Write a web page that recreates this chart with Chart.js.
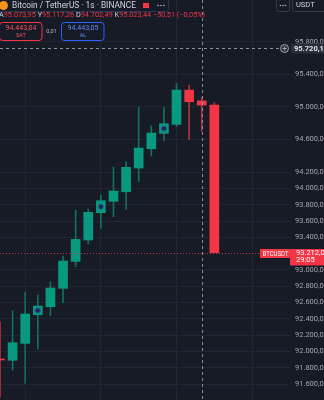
<!DOCTYPE html>
<html>
<head>
<meta charset="utf-8">
<script src="https://cdn.jsdelivr.net/npm/chart.js@4.4.1/dist/chart.umd.min.js"></script>
<style>
    html, body { margin: 0; padding: 0; background: #171b26; }
    canvas { display: block; }
</style>
</head>
<body>
<canvas id="chart" width="324" height="400"></canvas>
<script>
// Candle data (1s candles, BTCUSDT)
const times = ["19:30:41", "19:30:42", "19:30:43", "19:30:44", "19:30:45", "19:30:46",
    "19:30:47", "19:30:48", "19:30:49", "19:30:50", "19:30:51", "19:30:52",
    "19:30:53", "19:30:54", "19:30:55", "19:30:56", "19:30:57", "19:30:58",
    "19:30:59", "19:31:00", "19:31:01", "19:31:02", "19:31:03", "19:31:04"];
const opens  = [91907, 91891, 92099, 92450, 92548, 92774, 93105, 93367, 93702, 93842,
    93959, 94250, 94487, 94676, 94786, 95207, 95073.95, 95023.44];
const highs  = [92361, 92499, 92725, 92692, 92855, 93171, 93735, 93747, 93919, 94259,
    94328, 94995, 94766, 94995, 95289, 95269, 95117.26, 95052];
const lows   = [91440, 91772, 91609, 92029, 92438, 92597, 93039, 93318, 93510, 93653,
    93744, 94082, 94397, 94585, 94757, 94602, 94702.49, 93212];
const closes = [91895, 92107, 92459, 92557, 92778, 93109, 93375, 93707, 93849, 93968,
    94259, 94496, 94680, 94794, 95207, 95064, 95023.44, 93212];
// trade markers on candles
const markerPrices = [null, null, null, 92503, null, null, null, null, 93776, null,
    null, null, null, 94735, null, null, null, null];

// price scale
const priceTicks = [95800, 95400, 95000, 94600, 94200, 94000, 93800, 93600, 93400,
    93000, 92800, 92600, 92400, 92200, 92000, 91800, 91600];
const yMin = 91404;
const yMax = 96312;

// header / overlay texts
const symbolTitle = "Bitcoin / TetherUS · 1s · BINANCE";
const quoteCurrency = "USDT";
const sellPrice = 94443.04;
const buyPrice = 94443.05;
const spreadText = "0,01";
const crossIndex = 16;
const crossPrice = 95720.16;
const countdown = "29:05";
const symbolTag = "BTCUSDT";

const bg = "#171b26";
const gridColor = "#222633";
const green = "#089981";
const red = "#f23645";
const greenWick = "#13705f";
const redWick = "#b0323f";

// Turkish style number: 95.400,00
function fmt(v) {
    const parts = Math.abs(v).toFixed(2).split(".");
    const int = parts[0].replace(/\B(?=(\d{3})+(?!\d))/g, ".");
    return (v < 0 ? "−" : "") + int + "," + parts[1];
}

const bodies = opens.map((o, i) => [o, closes[i]]);
const wicks = lows.map((l, i) => [l, highs[i]]);
const isUp = i => closes[i] >= opens[i];

// background
const bgPlugin = {
    id: "bg",
    beforeDraw(chart) {
        const c = chart.ctx;
        c.save();
        c.fillStyle = bg;
        c.fillRect(0, 0, chart.width, chart.height);
        c.restore();
    }
};

function box(c, x, y, w, h, r) {
    c.beginPath();
    c.roundRect(x, y, w, h, r);
}

// price line, crosshair, header and labels
const overlayPlugin = {
    id: "overlay",
    afterDraw(chart) {
        const c = chart.ctx;
        const xs = chart.scales.x;
        const ys = chart.scales.y;
        const last = closes.length - 1;
        const lastY = Math.round(ys.getPixelForValue(closes[last])) + 0.5;
        c.save();

        // current price line
        c.strokeStyle = "rgba(242,54,69,0.85)";
        c.lineWidth = 1;
        c.setLineDash([1, 2]);
        c.beginPath();
        c.moveTo(0, lastY);
        c.lineTo(260, lastY);
        c.stroke();

        // crosshair
        const cx = Math.round(xs.getPixelForValue(crossIndex)) + 0.5;
        const cy = Math.round(ys.getPixelForValue(crossPrice)) + 0.5;
        c.strokeStyle = "#8a8e98";
        c.setLineDash([3, 3]);
        c.beginPath();
        c.moveTo(cx, 0);
        c.lineTo(cx, chart.height);
        c.moveTo(0, cy);
        c.lineTo(279, cy);
        c.stroke();
        c.setLineDash([]);

        // crosshair price label + add icon
        c.fillStyle = "#2a2e39";
        box(c, 291, cy - 5, 40, 10, 2);
        c.fill();
        c.fillStyle = "#e0e3eb";
        c.font = "bold 7.5px Roboto";
        c.textBaseline = "middle";
        c.textAlign = "left";
        c.fillText(fmt(crossPrice), 294, cy + 0.5);
        c.beginPath();
        c.arc(284.5, cy, 4, 0, Math.PI * 2);
        c.fillStyle = "#2a2e39";
        c.fill();
        c.strokeStyle = "#a3a6af";
        c.stroke();
        c.beginPath();
        c.moveTo(282.5, cy); c.lineTo(286.5, cy);
        c.moveTo(284.5, cy - 2); c.lineTo(284.5, cy + 2);
        c.stroke();

        // BTCUSDT tag + last price label
        c.fillStyle = red;
        c.fillRect(260, lastY - 4.5, 30, 9);
        box(c, 290, lastY - 4.5, 36, 16.5, 1);
        c.fill();
        c.fillStyle = "#ffffff";
        c.font = "7px Roboto";
        c.fillText(symbolTag, 262.5, lastY + 0.5, 26);
        c.font = "7.5px Roboto";
        c.fillText(fmt(closes[last]), 296, lastY - 0.5);
        c.fillText(countdown, 296, lastY + 7);

        // header line 1
        c.strokeStyle = "#2a3554";
        box(c, -4, -4, 172.5, 15.5, 3);
        c.stroke();
        c.beginPath();
        c.arc(3.5, 5.5, 4.5, 0, Math.PI * 2);
        c.fillStyle = "#f7931a";
        c.fill();
        c.fillStyle = "#d1d4dc";
        c.font = "8.5px Roboto";
        c.fillText(symbolTitle, 12, 5.5, 124);
        c.fillStyle = red;
        c.fillRect(143, 3, 6, 5);
        c.fillStyle = "#b2b5be";
        [158, 161, 164].forEach(x => { c.beginPath(); c.arc(x, 5.5, 0.8, 0, Math.PI * 2); c.fill(); });
        c.strokeStyle = "#363a45";
        box(c, 276.5, -3, 13, 14.5, 2);
        c.stroke();
        [280.5, 283, 285.5].forEach(x => { c.beginPath(); c.arc(x, 5.5, 0.8, 0, Math.PI * 2); c.fill(); });
        box(c, 292.5, -3, 36, 14.5, 2);
        c.stroke();
        c.fillStyle = "#d1d4dc";
        c.font = "7.5px Roboto";
        c.fillText(quoteCurrency, 296, 5.5);

        // header line 2: OHLC of crosshair candle
        const o = opens[crossIndex], h = highs[crossIndex], l = lows[crossIndex], cl = closes[crossIndex];
        const chg = cl - o;
        const valColor = cl >= o ? green : red;
        const parts = [["A", fmt(o)], ["Y", fmt(h)], ["D", fmt(l)], ["K", fmt(cl)]];
        c.font = "7.3px Roboto";
        let x = -1;
        parts.forEach(p => {
            c.fillStyle = "#d1d4dc";
            c.fillText(p[0], x, 15.5);
            x += c.measureText(p[0]).width;
            c.fillStyle = valColor;
            c.fillText(p[1], x, 15.5);
            x += c.measureText(p[1] + " ").width;
        });
        c.fillStyle = valColor;
        c.fillText(fmt(chg) + " (" + fmt(chg / o * 100) + "%)", x, 15.5);

        // header line 3: sell / buy buttons
        c.fillStyle = "#171b26";
        c.strokeStyle = red;
        box(c, -0.5, 22.5, 42.5, 18, 3);
        c.fill();
        c.stroke();
        c.strokeStyle = "#2962ff";
        box(c, 61.5, 22.5, 42.5, 18, 3);
        c.fill();
        c.stroke();
        c.textAlign = "center";
        c.font = "7px Roboto";
        c.fillStyle = "#f7525f";
        c.fillText(fmt(sellPrice), 21, 28);
        c.fillStyle = "#5b8cff";
        c.fillText(fmt(buyPrice), 83, 28);
        c.font = "5.5px Roboto";
        c.fillStyle = "#f7525f";
        c.fillText("SAT", 21, 35.5);
        c.fillStyle = "#5b8cff";
        c.fillText("AL", 83, 35.5);
        c.fillStyle = "#b2b5be";
        c.fillText(spreadText, 51.5, 32);

        c.restore();
    }
};

const canvas = document.getElementById("chart");

const chart = new Chart(canvas, {
    type: "bar",
    data: {
        labels: times,
        datasets: [{
            label: "wick",
            data: wicks,
            backgroundColor: ctx => isUp(ctx.dataIndex) ? greenWick : redWick,
            barThickness: 1,
            grouped: false,
            order: 2
        }, {
            label: "body",
            data: bodies,
            backgroundColor: ctx => isUp(ctx.dataIndex) ? green : red,
            barThickness: 9,
            grouped: false,
            order: 1
        }, {
            type: "line",
            label: "trades",
            data: markerPrices,
            showLine: false,
            pointRadius: 2.5,
            pointBackgroundColor: "#1b2552",
            pointBorderColor: "#33509a",
            pointBorderWidth: 1,
            order: 0
        }]
    },
    options: {
        responsive: false,
        animation: false,
        layout: { padding: 0, autoPadding: false },
        plugins: {
            legend: { display: false },
            tooltip: { enabled: false }
        },
        scales: {
            x: {
                type: "category",
                offset: false,
                grid: {
                    offset: false,
                    drawTicks: false,
                    color: ctx => (ctx.index % 6 === 2 ? gridColor : "transparent")
                },
                border: { display: false },
                ticks: { display: false }
            },
            y: {
                position: "right",
                min: yMin,
                max: yMax,
                afterBuildTicks: scale => {
                    scale.ticks = priceTicks.map(v => ({ value: v }));
                },
                afterFit: scale => {
                    scale.width = 34;
                    scale.paddingTop = 0;
                    scale.paddingBottom = 0;
                },
                grid: { color: gridColor, drawTicks: false },
                border: { display: false },
                ticks: {
                    padding: 5,
                    color: "#a3a6af",
                    font: { family: "Roboto", size: 7.5 },
                    callback: v => fmt(v)
                }
            }
        }
    },
    plugins: [bgPlugin, overlayPlugin]
});
</script>
</body>
</html>
